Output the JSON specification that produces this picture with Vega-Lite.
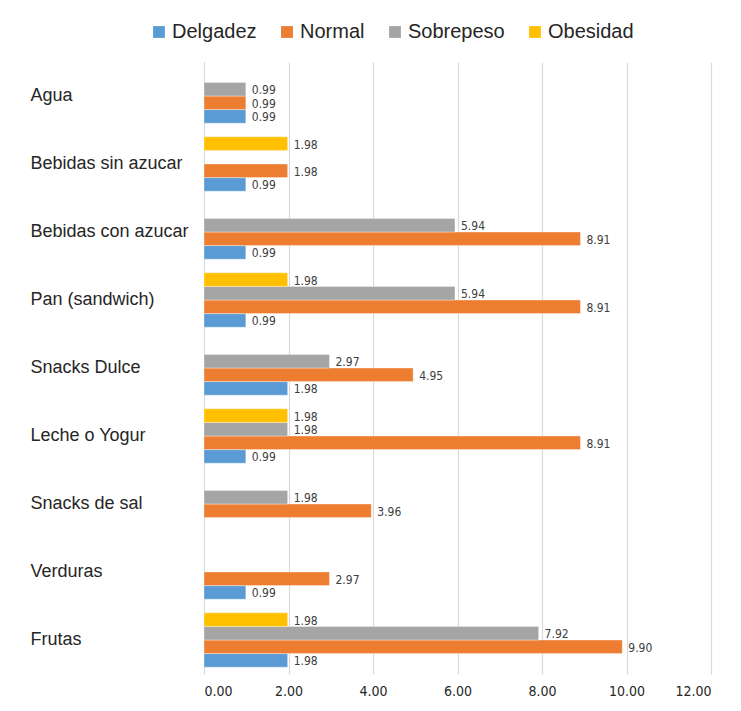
{
  "$schema": "https://vega.github.io/schema/vega-lite/v6.json",
  "autosize": {"type": "none"},
  "width": 507,
  "height": 612,
  "padding": {"left": 204, "top": 62, "right": 30, "bottom": 37},
  "background": "white",
  "data": {"values": [
    {"cat": "Agua", "grupo": "Delgadez", "v": 0.99},
    {"cat": "Agua", "grupo": "Normal", "v": 0.99},
    {"cat": "Agua", "grupo": "Sobrepeso", "v": 0.99},
    {"cat": "Bebidas sin azucar", "grupo": "Delgadez", "v": 0.99},
    {"cat": "Bebidas sin azucar", "grupo": "Normal", "v": 1.98},
    {"cat": "Bebidas sin azucar", "grupo": "Obesidad", "v": 1.98},
    {"cat": "Bebidas con azucar", "grupo": "Delgadez", "v": 0.99},
    {"cat": "Bebidas con azucar", "grupo": "Normal", "v": 8.91},
    {"cat": "Bebidas con azucar", "grupo": "Sobrepeso", "v": 5.94},
    {"cat": "Pan (sandwich)", "grupo": "Delgadez", "v": 0.99},
    {"cat": "Pan (sandwich)", "grupo": "Normal", "v": 8.91},
    {"cat": "Pan (sandwich)", "grupo": "Sobrepeso", "v": 5.94},
    {"cat": "Pan (sandwich)", "grupo": "Obesidad", "v": 1.98},
    {"cat": "Snacks Dulce", "grupo": "Delgadez", "v": 1.98},
    {"cat": "Snacks Dulce", "grupo": "Normal", "v": 4.95},
    {"cat": "Snacks Dulce", "grupo": "Sobrepeso", "v": 2.97},
    {"cat": "Leche o Yogur", "grupo": "Delgadez", "v": 0.99},
    {"cat": "Leche o Yogur", "grupo": "Normal", "v": 8.91},
    {"cat": "Leche o Yogur", "grupo": "Sobrepeso", "v": 1.98},
    {"cat": "Leche o Yogur", "grupo": "Obesidad", "v": 1.98},
    {"cat": "Snacks de sal", "grupo": "Normal", "v": 3.96},
    {"cat": "Snacks de sal", "grupo": "Sobrepeso", "v": 1.98},
    {"cat": "Verduras", "grupo": "Delgadez", "v": 0.99},
    {"cat": "Verduras", "grupo": "Normal", "v": 2.97},
    {"cat": "Frutas", "grupo": "Delgadez", "v": 1.98},
    {"cat": "Frutas", "grupo": "Normal", "v": 9.90},
    {"cat": "Frutas", "grupo": "Sobrepeso", "v": 7.92},
    {"cat": "Frutas", "grupo": "Obesidad", "v": 1.98}
  ]},
  "encoding": {
    "y": {
      "field": "cat", "type": "nominal",
      "sort": ["Agua", "Bebidas sin azucar", "Bebidas con azucar", "Pan (sandwich)", "Snacks Dulce", "Leche o Yogur", "Snacks de sal", "Verduras", "Frutas"],
      "scale": {"paddingInner": 0.2, "paddingOuter": 0.1},
      "axis": {
        "title": null, "ticks": false, "labelAlign": "left", "labelPadding": 174,
        "labelFont": "Liberation Sans", "labelFontSize": 18, "labelColor": "#262626",
        "domainColor": "#d9d9d9", "labelLimit": 0
      }
    },
    "yOffset": {
      "field": "grupo", "type": "nominal",
      "scale": {"domain": ["Obesidad", "Sobrepeso", "Normal", "Delgadez"], "paddingInner": 0, "paddingOuter": 0}
    },
    "x": {
      "field": "v", "type": "quantitative",
      "scale": {"domain": [0, 12], "nice": false},
      "axis": {
        "title": null, "values": [0, 2, 4, 6, 8, 10, 12], "format": ".2f",
        "domain": false, "ticks": false, "labelPadding": 10,
        "labelFont": "DejaVu Sans Condensed, Liberation Sans", "labelFontSize": 14, "labelColor": "#262626",
        "gridColor": "#d9d9d9", "gridWidth": 1.2
      }
    }
  },
  "layer": [
    {
      "mark": {"type": "bar", "stroke": "white", "strokeWidth": 0.6, "strokeOpacity": 0.6},
      "encoding": {
        "color": {
          "field": "grupo", "type": "nominal",
          "scale": {"domain": ["Delgadez", "Normal", "Sobrepeso", "Obesidad"], "range": ["#5B9BD5", "#ED7D31", "#A5A5A5", "#FFC000"]},
          "legend": {
            "title": null, "orient": "none", "direction": "horizontal",
            "legendX": -55, "legendY": -40,
            "symbolType": "square", "symbolSize": 140, "symbolStrokeWidth": 0,
            "labelFont": "Liberation Sans", "labelFontSize": 20, "labelColor": "#262626",
            "labelOffset": 3, "columnPadding": 20
          }
        }
      }
    },
    {
      "mark": {"type": "text", "align": "left", "dx": 6, "dy": 1, "font": "DejaVu Sans Condensed, Liberation Sans", "fontSize": 12, "color": "#404040"},
      "encoding": {"text": {"field": "v", "type": "quantitative", "format": ".2f"}}
    }
  ],
  "config": {"view": {"stroke": null}}
}
